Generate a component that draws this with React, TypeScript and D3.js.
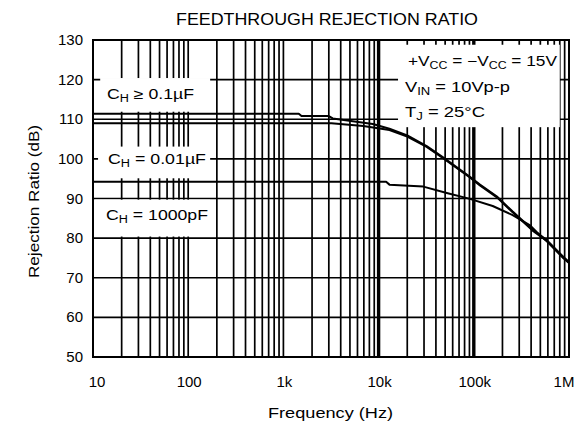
import React from "react";
import * as d3 from "d3";

const FREQ_TICKS = [10, 100, 1000, 10000, 100000, 1000000];
const FREQ_LABELS = ["10", "100", "1k", "10k", "100k", "1M"];
const DB_TICKS = [50, 60, 70, 80, 90, 100, 110, 120, 130];

// C_H >= 0.1uF
const FREQ_A = [10, 1450, 1550, 3000, 3300, 8700, 13000, 20000, 32000, 48000, 91000, 116000, 175000, 256000, 415000, 585000, 870000, 1000000];
const DB_A = [111.4, 111.4, 110.8, 110.8, 110.2, 108.8, 107.6, 105.9, 103.2, 100.3, 95.5, 93.5, 90.5, 86.7, 82.1, 79.5, 75.3, 74];
// C_H = 0.01uF
const FREQ_B = [10, 3200, 6900, 13000, 20000, 32000, 48000, 91000, 116000, 175000, 256000, 415000, 585000, 870000, 1000000];
const DB_B = [109, 109, 108.3, 107.3, 105.6, 103, 100.1, 95.3, 93.3, 90.3, 86.5, 81.9, 79.3, 75.1, 73.8];
// C_H = 1000pF
const FREQ_C = [10, 12000, 13000, 29500, 52000, 91000, 158000, 256000, 386000, 460000, 585000, 870000, 1000000];
const DB_C = [94.2, 94.2, 93.5, 93, 91.4, 89.9, 88.1, 85.8, 83.3, 81.5, 79.2, 75, 73.7];

// label backdrops in data units [f0, f1, db0, db1]
const BOXES = [
  [11.9, 170, 111.9, 120.4],
  [11.3, 170, 95.1, 103.1],
  [10.5, 170, 80.4, 89.7],
  [16000, 800000, 108, 128.8],
];

const W = 585;
const H = 426;
const FONT = "'Liberation Sans', Arial, Helvetica, sans-serif";

export default function App() {
  const x = d3.scaleLog().domain([10, 1e6]).range([93, 569]);
  const y = d3.scaleLinear().domain([50, 130]).range([357, 40]);

  const gridFreqs: number[] = [];
  for (let dec = 10; dec < 1e6; dec *= 10) {
    for (let m = 1; m <= 9; m++) gridFreqs.push(dec * m);
  }
  gridFreqs.push(1e6);

  const line = d3
    .line<[number, number]>()
    .x((d) => x(d[0]))
    .y((d) => y(d[1]));

  const series = [
    { f: FREQ_C, v: DB_C },
    { f: FREQ_B, v: DB_B },
    { f: FREQ_A, v: DB_A },
  ];

  const x0 = x(10);
  const x1 = x(1e6);
  const yTop = y(130);
  const yBot = y(50);

  return (
    <svg
      width={W}
      height={H}
      viewBox={`0 0 ${W} ${H}`}
      style={{ position: "absolute", left: 0, top: 0, background: "#fff" }}
      fontFamily={FONT}
    >
      <rect x={0} y={0} width={W} height={H} fill="#fff" />
      <text x={176} y={25} fontSize={16} textLength={302} lengthAdjust="spacingAndGlyphs" fill="#000">
        FEEDTHROUGH REJECTION RATIO
      </text>

      {/* grid */}
      <g stroke="#000">
        {gridFreqs.map((f, i) => (
          <line
            key={"v" + i}
            x1={x(f)}
            x2={x(f)}
            y1={yTop}
            y2={yBot}
            strokeWidth={f === 10000 || f === 100000 ? 3.4 : 1.7}
          />
        ))}
        {DB_TICKS.map((v) => (
          <line key={"h" + v} x1={x0} x2={x1} y1={y(v)} y2={y(v)} strokeWidth={1.7} />
        ))}
      </g>

      {/* label backdrops */}
      {BOXES.map((b, i) => (
        <rect
          key={"b" + i}
          x={x(b[0])}
          y={y(b[3])}
          width={x(b[1]) - x(b[0])}
          height={y(b[2]) - y(b[3])}
          fill="#fff"
        />
      ))}

      {/* frame */}
      <rect x={x0} y={yTop} width={x1 - x0} height={yBot - yTop} fill="none" stroke="#000" strokeWidth={2} />

      {/* curves */}
      <g fill="none" stroke="#000" strokeWidth={2} strokeLinejoin="round">
        {series.map((s, i) => (
          <path key={i} d={line(s.f.map((f, j) => [f, s.v[j]] as [number, number])) || ""} />
        ))}
      </g>

      {/* y tick labels */}
      {DB_TICKS.map((v) => (
        <text key={"yl" + v} x={83} y={y(v) + 5} fontSize={15} textAnchor="end" fill="#000">
          {v}
        </text>
      ))}
      {/* x tick labels */}
      {FREQ_TICKS.map((f, i) => (
        <text key={"xl" + f} x={x(f) + (i === 0 ? 4 : i === FREQ_TICKS.length - 1 ? -5 : 1)} y={387} fontSize={15} textAnchor="middle" fill="#000">
          {FREQ_LABELS[i]}
        </text>
      ))}

      <text x={268} y={418} fontSize={15} textLength={125} lengthAdjust="spacingAndGlyphs" fill="#000">
        Frequency (Hz)
      </text>
      <text
        transform={`translate(39,278) rotate(-90)`}
        fontSize={14}
        textLength={153}
        lengthAdjust="spacingAndGlyphs"
        fill="#000"
      >
        Rejection Ratio (dB)
      </text>

      {/* left legend labels */}
      <g fontSize={14} fill="#000">
        <text x={107} y={99} textLength={87} lengthAdjust="spacingAndGlyphs">
          C<tspan dy={3} fontSize={10}>H</tspan>
          <tspan dy={-3}> ≥ 0.1µF</tspan>
        </text>
        <text x={108} y={164} textLength={98} lengthAdjust="spacingAndGlyphs">
          C<tspan dy={3} fontSize={10}>H</tspan>
          <tspan dy={-3}> = 0.01µF</tspan>
        </text>
        <text x={106} y={220} textLength={102} lengthAdjust="spacingAndGlyphs">
          C<tspan dy={3} fontSize={10}>H</tspan>
          <tspan dy={-3}> = 1000pF</tspan>
        </text>
      </g>

      {/* right legend */}
      <g fontSize={14} fill="#000">
        <text x={408} y={66} textLength={149} lengthAdjust="spacingAndGlyphs">
          +V<tspan dy={3} fontSize={10}>CC</tspan>
          <tspan dy={-3}> = −V</tspan>
          <tspan dy={3} fontSize={10}>CC</tspan>
          <tspan dy={-3}> = 15V</tspan>
        </text>
        <text x={405} y={92} textLength={105} lengthAdjust="spacingAndGlyphs">
          V<tspan dy={3} fontSize={10}>IN</tspan>
          <tspan dy={-3}> = 10Vp-p</tspan>
        </text>
        <text x={405} y={117} textLength={80} lengthAdjust="spacingAndGlyphs">
          T<tspan dy={3} fontSize={10}>J</tspan>
          <tspan dy={-3}> = 25°C</tspan>
        </text>
      </g>
    </svg>
  );
}
